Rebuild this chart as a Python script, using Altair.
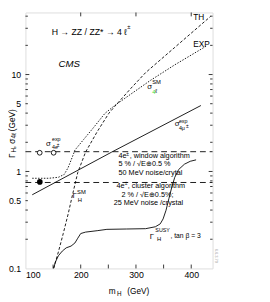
import altair as alt
import pandas as pd

# ---------------- data ----------------
th_m = [150.9, 159.6, 168.4, 177.2, 186.0, 194.7, 208.8, 229.8, 250.9, 261.4, 291.2, 317.5, 370.2, 435.1]
th_v = [0.100, 0.148, 0.229, 0.363, 0.603, 0.977, 1.585, 2.570, 3.981, 4.677, 7.244, 10.47, 19.05, 39.81]

exp_m = [112.3, 142.1, 159.6, 170.2, 177.2, 184.2, 189.5, 205.3, 222.8, 243.9, 261.4, 291.2, 326.3, 370.2, 426.3]
exp_v = [0.851, 0.851, 0.871, 0.933, 1.096, 1.380, 1.660, 2.138, 2.818, 3.981, 4.786, 6.310, 8.710, 12.59, 19.50]

susy_m = [150.9, 154.4, 159.6, 166.7, 173.7, 182.5, 189.5, 194.7, 200.0, 208.8, 229.8, 247.4,
          282.5, 317.5, 335.1, 343.9, 349.1, 354.4, 359.6, 364.9, 370.2, 377.2, 387.7, 398.2, 408.8]
susy_v = [0.100, 0.117, 0.135, 0.151, 0.163, 0.170, 0.183, 0.205, 0.229, 0.237, 0.245, 0.253,
          0.255, 0.257, 0.269, 0.288, 0.324, 0.398, 0.525, 0.692, 0.871, 1.047, 1.189, 1.274, 1.318]

mu_m = [112.3, 256.1, 417.5]
mu_v = [0.575, 1.585, 4.79]

hline_v = [1.6, 0.77]
open_m = [125.8, 151.0]
open_v = [1.56, 1.56]
filled_m = [126.0]
filled_v = [0.78]

x_labels = [100, 200, 300, 400]
y_labels = [0.1, 0.5, 1, 5, 10]
x_ticks_bottom = [150, 200, 250, 300, 350, 400]
x_ticks_top = [200, 300, 400]
y_ticks_major = [1, 10]
y_ticks_minor = [0.2, 0.3, 0.4, 0.5, 0.6, 0.7, 0.8, 0.9, 2, 3, 4, 5, 6, 7, 8, 9, 20, 30, 40]

X_DOMAIN = [100, 438.6]
Y_DOMAIN = [0.1, 43.65]

# ---------------- chart ----------------
W, H = 193, 264
FONT = "Liberation Sans"
xs = alt.Scale(domain=X_DOMAIN, nice=False, zero=False)
ys = alt.Scale(type="log", domain=Y_DOMAIN, nice=False)
AX = alt.Axis(values=x_labels, ticks=False, domain=False, grid=False, title=None,
              labelFontSize=9, labelColor="black", labelPadding=2, labelFont=FONT, format="d")
AY = alt.Axis(values=y_labels, ticks=False, domain=False, grid=False, title=None,
              labelFontSize=9, labelColor="black", labelPadding=5, labelFont=FONT, format="~g")


def X(f):
    return alt.X(f, scale=xs, axis=AX)


def Y(f):
    return alt.Y(f, scale=ys, axis=AY)


def line(m, v, dash=None, width=0.9):
    df = pd.DataFrame({"m": m, "v": v, "o": range(len(m))})
    kw = dict(color="black", strokeWidth=width, clip=True)
    if dash:
        kw["strokeDash"] = dash
    return alt.Chart(df).mark_line(**kw).encode(x=X("m:Q"), y=Y("v:Q"), order="o:Q")


th = line(th_m, th_v, dash=[3, 2])
ex = line(exp_m, exp_v, dash=[1.5, 1.5])
susy = line(susy_m, susy_v)
mu = line(mu_m, mu_v)

hl = alt.Chart(pd.DataFrame({"v": hline_v, "a": [X_DOMAIN[0]] * 2, "b": [X_DOMAIN[1]] * 2})).mark_rule(
    color="black", strokeWidth=0.9, strokeDash=[6, 4]).encode(x=X("a:Q"), x2="b:Q", y=Y("v:Q"))

opens = alt.Chart(pd.DataFrame({"m": open_m, "v": open_v})).mark_point(
    shape="circle", filled=True, fill="white", stroke="black", strokeWidth=0.9, size=24, opacity=1).encode(
    x=X("m:Q"), y=Y("v:Q"))
fills = alt.Chart(pd.DataFrame({"m": filled_m, "v": filled_v})).mark_point(
    shape="circle", filled=True, color="black", size=34, opacity=1).encode(x=X("m:Q"), y=Y("v:Q"))

# ticks drawn inward
tb = alt.Chart(pd.DataFrame({"t": x_ticks_bottom})).mark_rule(color="black", strokeWidth=0.8).encode(
    x=X("t:Q"), y=alt.value(H), y2=alt.value(H - 4))
tt = alt.Chart(pd.DataFrame({"t": x_ticks_top})).mark_rule(color="black", strokeWidth=0.8).encode(
    x=X("t:Q"), y=alt.value(0), y2=alt.value(4))
tick_layers = [tb, tt]
for ticks, ln in ((y_ticks_major, 4), (y_ticks_minor, 2.5)):
    d = pd.DataFrame({"t": ticks})
    tick_layers.append(alt.Chart(d).mark_rule(color="black", strokeWidth=0.8).encode(
        y=Y("t:Q"), x=alt.value(0), x2=alt.value(ln)))
    tick_layers.append(alt.Chart(d).mark_rule(color="black", strokeWidth=0.8).encode(
        y=Y("t:Q"), x=alt.value(W), x2=alt.value(W - ln)))

# annotations in data coordinates
labels = pd.DataFrame([
    (147.4, 27.5, "H → ZZ / ZZ* → 4 ℓ", 9, "black"),
    (284.2, 30.9, "±", 6, "black"),
    (403.5, 38.9, "TH", 8.5, "black"),
    (403.5, 20.4, "EXP", 8.5, "black"),
    (320.5, 7.41, "σ", 8, "black"),
    (329.3, 8.32, "SM", 6, "black"),
    (329.3, 6.61, "4", 6, "#33dd33"),
    (335.1, 6.76, "ℓ", 6, "black"),
    (370.2, 3.09, "σ", 8, "black"),
    (377.7, 3.35, "exp", 5.5, "black"),
    (377.7, 2.79, "4μ", 5.5, "black"),
    (390.7, 2.95, "±", 5, "black"),
    (137.4, 1.94, "σ", 8, "black"),
    (147.9, 2.14, "exp", 5.5, "black"),
    (147.9, 1.77, "4e", 5.5, "black"),
    (156.7, 1.89, "±", 5, "black"),
    (185.1, 0.556, "Γ", 8, "black"),
    (193.5, 0.617, "SM", 6, "black"),
    (194.7, 0.507, "H", 6, "black"),
    (325.1, 0.212, "Γ", 8, "black"),
    (335.1, 0.247, "SUSY", 5.5, "black"),
    (338.1, 0.202, "H", 6, "black"),
    (362.3, 0.217, ", tan β = 3", 7, "black"),
    (268.4, 1.445, "4e", 7.5, "black"),
    (282.5, 1.53, "±", 5, "black"),
    (288.6, 1.445, ", window algorithm", 7.5, "black"),
    (268.4, 1.189, "5 % / √E⊕0.5 %", 7.5, "black"),
    (268.4, 0.970, "50 MeV noise/crytal", 7.5, "black"),
    (264.9, 0.713, "4e", 7.5, "black"),
    (279.5, 0.755, "±", 5, "black"),
    (285.1, 0.713, ", cluster algorithm", 7.5, "black"),
    (273.7, 0.575, "2 % / √E⊕0.5%;", 7.5, "black"),
    (259.6, 0.468, "25 MeV noise /crystal", 7.5, "black"),
], columns=["m", "v", "txt", "fs", "col"])

lab = alt.Chart(labels).mark_text(align="left", baseline="middle", font=FONT).encode(
    x=X("m:Q"), y=Y("v:Q"),
    text="txt:N", size=alt.Size("fs:Q", scale=None), color=alt.Color("col:N", scale=None))

cms = alt.Chart(pd.DataFrame({"m": [159.6], "v": [12.9], "txt": ["CMS"]})).mark_text(
    align="left", baseline="middle", font=FONT, fontStyle="italic", fontSize=10, color="black").encode(
    x=X("m:Q"), y=Y("v:Q"), text="txt:N")

# axis titles built from pieces (sub-/superscripts), positioned in pixels
title_layers = []
for px, py, txt, fs in [(86, 287, "m", 8.5), (94.5, 290, "H", 6.5), (105, 287, "(GeV)", 8.5)]:
    title_layers.append(alt.Chart(pd.DataFrame({"txt": [txt]})).mark_text(
        align="left", baseline="middle", font=FONT, color="black", fontSize=fs).encode(
        x=alt.value(px), y=alt.value(py), text="txt:N"))

for px, py, txt, fs in [(-14, 150, "Γ", 8.5), (-11.5, 144.5, "H", 6.5), (-14, 140, ", σ", 8.5),
                        (-11.5, 130, "4ℓ", 6.5), (-14, 122.5, " (GeV)", 8.5)]:
    title_layers.append(alt.Chart(pd.DataFrame({"txt": [txt]})).mark_text(
        align="left", baseline="middle", font=FONT, color="black", fontSize=fs, angle=270).encode(
        x=alt.value(px), y=alt.value(py), text="txt:N"))

tiny = alt.Chart(pd.DataFrame({"txt": ["6.6.3.79"]})).mark_text(
    align="center", baseline="middle", font=FONT, fontSize=4, color="#999999", angle=90).encode(
    x=alt.value(197), y=alt.value(251), text="txt:N")

chart = alt.layer(
    hl, th, ex, susy, mu, opens, fills, *tick_layers, lab, cms, *title_layers, tiny
).properties(
    width=W, height=H,
    autosize=alt.AutoSizeParams(type="none"),
    padding={"left": 18, "top": 0, "right": 51, "bottom": 30},
).configure_view(stroke="black", strokeWidth=1).configure(font=FONT)

chart.save("out.html", embed_options={"renderer": "svg", "actions": False})
